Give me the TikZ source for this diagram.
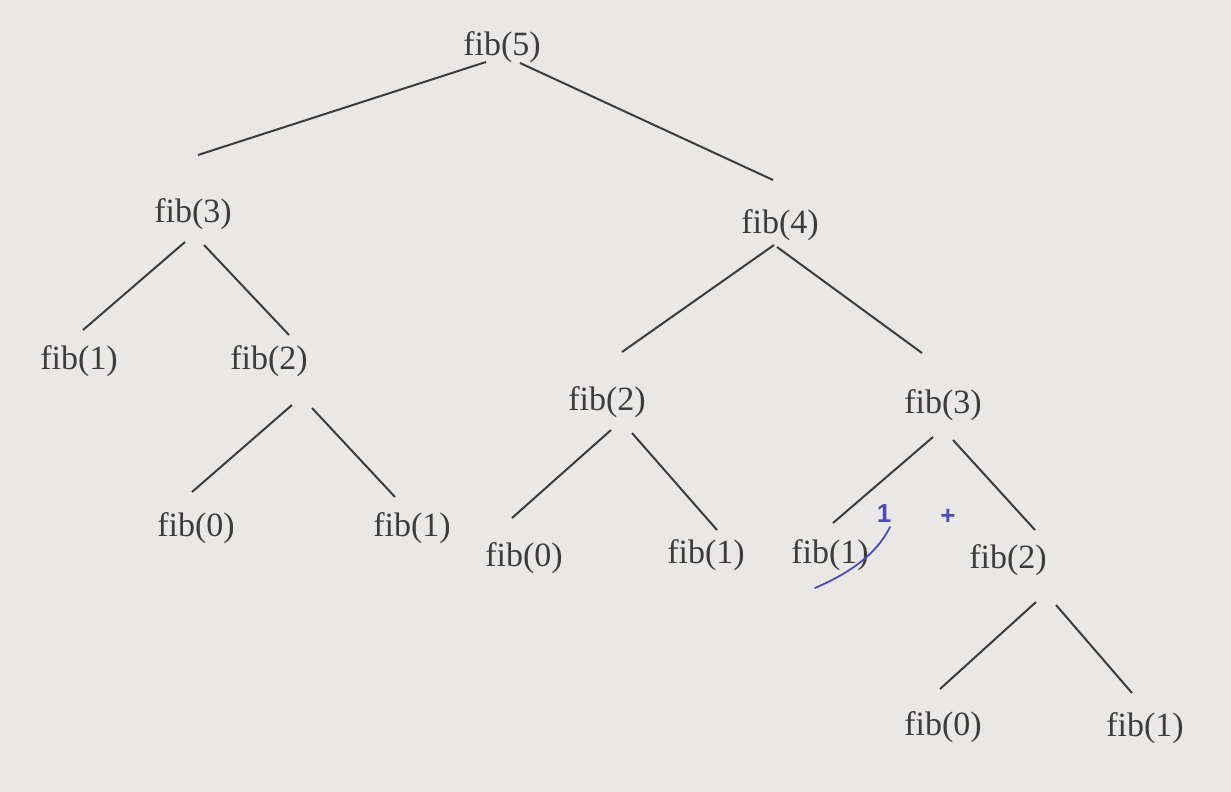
\documentclass[tikz,border=0pt]{standalone}
\usepackage{fontspec}
\setmainfont{Liberation Serif}
\newfontfamily\penfont{Liberation Sans}
\usepackage{xcolor}
\usetikzlibrary{calc}
\definecolor{ink}{HTML}{3C3C3C}
\definecolor{paper}{HTML}{EAE8E6}
\definecolor{penblue}{HTML}{4A4DB8}
\tikzset{
  call/.style={text=ink, inner sep=1pt, font=\fontsize{17}{20}\selectfont},
  edge/.style={draw=ink, line width=1pt},
  penmark/.style={text=penblue, inner sep=0pt, font=\penfont\bfseries\fontsize{13}{15}\selectfont},
  penstroke/.style={draw=penblue, line width=0.9pt, line cap=round}
}

\begin{document}
\begin{tikzpicture}[x=0.5pt,y=-0.5pt]
\fill[paper] (0,0) rectangle (1231,792);
\useasboundingbox (0,0) rectangle (1231,792);
% calls, top to bottom
\node[call] (f5) at (502,47) {fib(5)};
\node[call] (f3a) at (193,214) {fib(3)};
\node[call] (f4) at (780,225) {fib(4)};
\node[call] (f1a) at (79,361) {fib(1)};
\node[call] (f2a) at (269,361) {fib(2)};
\node[call] (f2b) at (607,402) {fib(2)};
\node[call] (f3b) at (943,405) {fib(3)};
\node[call] (f0a) at (196,528) {fib(0)};
\node[call] (f1b) at (412,528) {fib(1)};
\node[call] (f0b) at (524,558) {fib(0)};
\node[call] (f1c) at (706,555) {fib(1)};
\node[call] (f1d) at (830,555) {fib(1)};
\node[call] (f2c) at (1008,560) {fib(2)};
\node[call] (f0c) at (943,727) {fib(0)};
\node[call] (f1e) at (1145,728) {fib(1)};
% edges
\draw[edge] ($(f5)+(-16,15)$) -- ($(f3a)+(5,-59)$);
\draw[edge] ($(f5)+(18,16)$) -- ($(f4)+(-7,-45)$);
\draw[edge] ($(f3a)+(-8,28)$) -- ($(f1a)+(4,-31)$);
\draw[edge] ($(f3a)+(11,31)$) -- ($(f2a)+(20,-26)$);
\draw[edge] ($(f4)+(-6,20)$) -- ($(f2b)+(15,-50)$);
\draw[edge] ($(f4)+(-3,22)$) -- ($(f3b)+(-21,-52)$);
\draw[edge] ($(f2a)+(23,44)$) -- ($(f0a)+(-4,-36)$);
\draw[edge] ($(f2a)+(43,47)$) -- ($(f1b)+(-17,-31)$);
\draw[edge] ($(f2b)+(4,28)$) -- ($(f0b)+(-12,-40)$);
\draw[edge] ($(f2b)+(25,31)$) -- ($(f1c)+(11,-25)$);
\draw[edge] ($(f3b)+(-10,32)$) -- ($(f1d)+(3,-32)$);
\draw[edge] ($(f3b)+(10,35)$) -- ($(f2c)+(27,-30)$);
\draw[edge] ($(f2c)+(28,42)$) -- ($(f0c)+(-3,-38)$);
\draw[edge] ($(f2c)+(48,45)$) -- ($(f1e)+(-13,-35)$);
% pen marks
\node[penmark] (one) at (884,514) {1};
\node[penmark] (plus) at (948,517) {+};
\draw[penstroke] ($(f1d)+(-15,33)$) .. controls ($(f1d)+(15,20)$) and ($(f1d)+(45,2)$) .. ($(f1d)+(60,-28)$);
\end{tikzpicture}
\end{document}
